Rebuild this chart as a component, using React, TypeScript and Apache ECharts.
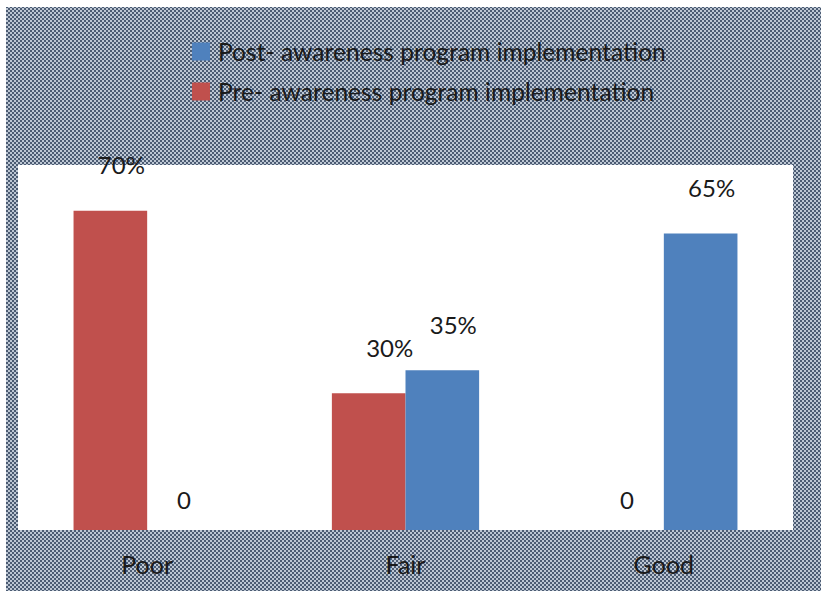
import React, { useEffect, useRef } from "react";
import * as echarts from "echarts";

const categories = ["Poor", "Fair", "Good"];
const preValues = [70, 30, 0];
const postValues = [0, 35, 65];
const preName = "Pre- awareness program implementation";
const postName = "Post- awareness program implementation";

const FONT = "Lato, 'Open Sans', sans-serif";

function makePattern(): HTMLCanvasElement {
  const c = document.createElement("canvas");
  c.width = 4;
  c.height = 4;
  const ctx = c.getContext("2d")!;
  ctx.fillStyle = "#bcc6d3";
  ctx.fillRect(0, 0, 4, 4);
  ctx.fillStyle = "#4b5b72";
  ctx.fillRect(0, 0, 2, 2);
  ctx.fillRect(2, 2, 2, 2);
  return c;
}

function labelOffset(series: "pre" | "post", idx: number, v: number): number[] {
  if (v === 0) return [0, -14];
  if (series === "pre" && idx === 1) return [21, -29];
  return [11, -29];
}

export default function App() {
  const ref = useRef<HTMLDivElement>(null);
  useEffect(() => {
    if (!ref.current) return;
    const chart = echarts.init(ref.current, null, { renderer: "svg" });
    const pattern = makePattern();
    const mk = (vals: number[], s: "pre" | "post") =>
      vals.map((v, i) => ({
        value: v,
        label: { offset: labelOffset(s, i, v) },
      }));
    const labelStyle = {
      show: true,
      position: "top" as const,
      fontSize: 24,
      fontFamily: FONT,
      color: "#1a1a1a",
      formatter: (p: any) => (p.value > 0 ? p.value + "%" : "0"),
    };
    chart.setOption({
      animation: false,
      graphic: [
        {
          type: "rect",
          z: -10,
          silent: true,
          shape: { x: 6, y: 7, width: 815, height: 584 },
          style: {
            fill: { image: pattern, repeat: "repeat", imageWidth: 4, imageHeight: 4 } as any,
          },
        },
      ],
      legend: {
        orient: "vertical",
        left: 187,
        top: 34,
        itemWidth: 18,
        itemHeight: 18,
        itemGap: 15,
        icon: "rect",
        data: [postName, preName],
        textStyle: {
          fontSize: 24.6,
          fontFamily: FONT,
          color: "#1a1a1a",
          padding: [0, 0, 0, 3],
        },
      },
      grid: {
        left: 18,
        right: 28,
        top: 165,
        bottom: 61,
        show: true,
        backgroundColor: "#ffffff",
        borderWidth: 0,
      },
      xAxis: {
        type: "category",
        data: categories,
        axisLine: { show: false },
        axisTick: { show: false },
        axisLabel: { fontSize: 25, fontFamily: FONT, color: "#1a1a1a", margin: 21 },
      },
      yAxis: {
        type: "value",
        min: 0,
        max: 80,
        show: false,
        splitLine: { show: false },
      },
      series: [
        {
          name: preName,
          type: "bar",
          data: mk(preValues, "pre"),
          barGap: "0%",
          barCategoryGap: "43%",
          itemStyle: { color: "#C0504D" },
          label: labelStyle,
        },
        {
          name: postName,
          type: "bar",
          data: mk(postValues, "post"),
          barGap: "0%",
          barCategoryGap: "43%",
          itemStyle: { color: "#4F81BD" },
          label: labelStyle,
        },
      ],
    });
    return () => chart.dispose();
  }, []);
  return <div ref={ref} style={{ width: 821, height: 591, position: "absolute", left: 0, top: 0 }} />;
}
